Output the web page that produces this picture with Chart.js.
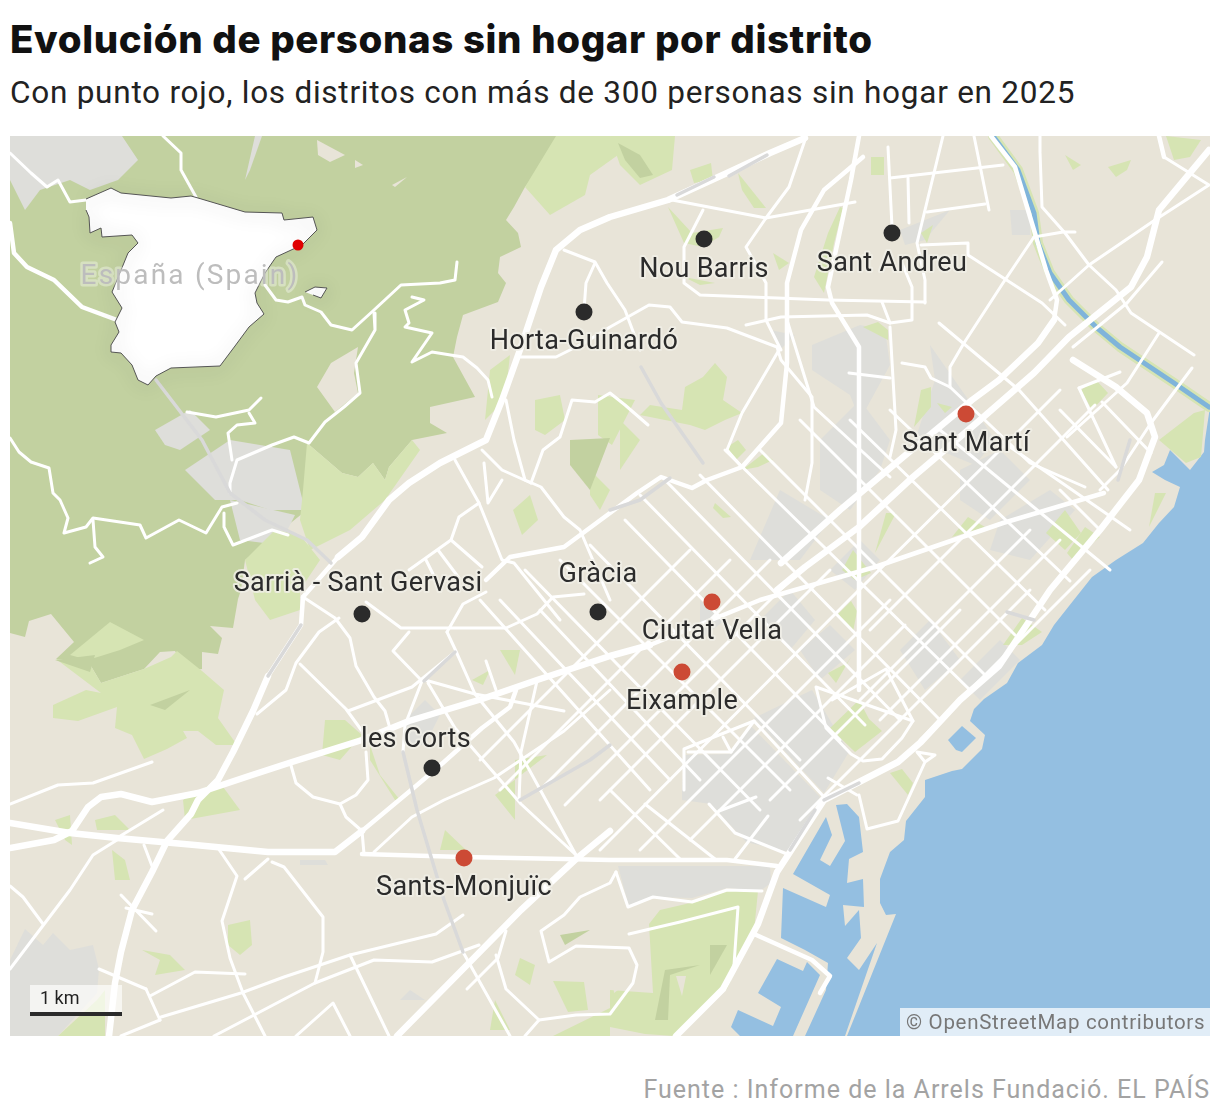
<!DOCTYPE html>
<html lang="es">
<head>
<meta charset="utf-8">
<title>Evolución de personas sin hogar por distrito</title>
<script src="https://cdn.jsdelivr.net/npm/chart.js@4"></script>
<style>
  html,body{margin:0;padding:0;background:#fff;font-family:Roboto,sans-serif}
  body{width:1220px;height:1120px;position:relative;overflow:hidden}
  h1{position:absolute;left:10px;top:16px;margin:0;font:800 38.5px/46px Inter,Roboto,sans-serif;letter-spacing:.6px;color:#111;white-space:nowrap}
  h2{position:absolute;left:10px;top:74px;margin:0;font:400 31.5px/38px Roboto,sans-serif;letter-spacing:.75px;color:#222;white-space:nowrap}
  #wrap{position:absolute;left:10px;top:136px;width:1200px;height:900px;background:#e8e4d8}
  .scale{position:absolute;left:20px;top:849px;width:92px;height:27px;background:rgba(255,255,255,.65);font-size:18px;line-height:26px;color:#222;text-indent:10px}
  .bar{position:absolute;left:20px;top:876px;width:92px;height:4px;background:#2b2b2b}
  .osm{position:absolute;right:0;bottom:0;width:310px;height:28px;background:rgba(255,255,255,.72);font-size:20.5px;line-height:29px;letter-spacing:.7px;color:#777;text-indent:6px;white-space:nowrap}
  .src{position:absolute;right:10px;top:1074px;font-size:25px;line-height:32px;letter-spacing:1px;color:#a3a3a3;white-space:nowrap}
</style>
</head>
<body>
<h1>Evolución de personas sin hogar por distrito</h1>
<h2>Con punto rojo, los distritos con más de 300 personas sin hogar en 2025</h2>
<div id="wrap">
  <canvas id="map" width="1200" height="900"></canvas>
  <div class="scale">1 km</div><div class="bar"></div>
  <div class="osm">© OpenStreetMap contributors</div>
</div>
<div class="src">Fuente : Informe de la Arrels Fundació. EL PAÍS</div>
<script>
// districts
const districts = ['Nou Barris','Sant Andreu','Horta-Guinardó','Sant Martí','Gràcia','Ciutat Vella','Eixample','Sarrià - Sant Gervasi','les Corts','Sants-Monjuïc'];
const districtX = [704,892,584,966,598,712,682,362,432,464];
const districtY = [239,233,312,414,612,602,672,614,768,858];
const over300 = [false,false,false,true,false,true,true,false,false,true];

// land use
const sea = [[1210,407],[1205,440],[1204,452],[1190,470],[1170,450],[1164,465],[1152,472],[1165,480],[1180,487],[1174,507],[1159,523],[1143,543],[1116,560],[1092,577],[1069,606],[1054,625],[1042,645],[1018,663],[1007,683],[984,699],[974,709],[970,721],[985,735],[982,749],[962,769],[952,771],[925,780],[925,797],[906,821],[904,840],[890,852],[880,879],[880,903],[886,915],[896,914],[847,1036],[1210,1036]];
const harbour = [[826,817],[832,835],[820,860],[830,866],[845,841],[836,805],[847,804],[859,817],[863,852],[849,859],[847,883],[863,879],[864,907],[843,905],[845,926],[859,910],[861,938],[847,958],[859,970],[877,943],[845,1036],[805,1036],[826,990],[828,963],[805,950],[781,938],[783,888],[826,907],[830,895],[793,874]];
const portBasin = [[777,959],[803,971],[807,962],[820,975],[793,1036],[740,1036],[731,1027],[738,1010],[773,1026],[781,1007],[758,993]];
const marina = [[948,740],[962,726],[976,738],[962,752],[956,750]];
const forest = [[10,136],[556,136],[556,150],[525,187],[514,207],[506,220],[518,233],[521,247],[500,257],[498,273],[506,283],[498,302],[463,315],[457,337],[453,357],[475,397],[430,407],[430,423],[447,433],[412,440],[389,467],[385,480],[373,463],[358,477],[342,473],[307,443],[307,467],[303,513],[245,560],[241,590],[238,599],[233,628],[210,626],[222,638],[218,654],[202,652],[202,669],[187,671],[175,651],[160,652],[144,669],[101,683],[88,661],[56,659],[74,642],[51,614],[29,621],[25,637],[10,633]];
const lightParks = [
  [[56,659],[88,661],[101,683],[144,669],[171,657],[177,651],[202,671],[224,690],[218,718],[237,745],[216,745],[198,731],[183,731],[187,738],[167,749],[144,759],[132,735],[115,728],[117,707],[78,721],[53,718],[53,705],[86,690],[101,693]],
  [[307,443],[342,473],[358,477],[373,463],[385,480],[389,467],[412,440],[420,450],[385,500],[350,530],[310,550],[300,520],[303,490]],
  [[245,560],[275,530],[300,535],[320,560],[300,590],[300,610],[270,620],[255,600]],
  [[70,655],[110,622],[144,640],[120,650],[88,660]],
  [[556,136],[610,136],[625,150],[590,175],[585,195],[550,215],[525,187]],
  [[610,136],[675,136],[672,170],[640,185],[620,165]],
  [[490,370],[510,355],[505,400],[485,420]],
  [[535,400],[560,395],[565,420],[545,435],[535,430]],
  [[513,510],[530,495],[538,520],[522,535]],
  [[598,395],[635,400],[612,445],[598,435]],
  [[685,387],[703,377],[715,363],[727,377],[723,400],[742,413],[725,420],[705,430],[690,425],[665,420],[640,415],[650,405],[682,410]],
  [[590,470],[610,490],[600,510],[590,495]],
  [[620,420],[640,440],[620,470],[620,440]],
  [[727,447],[738,440],[746,450],[736,460]],
  [[742,470],[764,453],[773,460],[758,467]],
  [[715,503],[731,517],[723,518],[713,508]],
  [[690,170],[711,163],[713,180],[694,183]],
  [[738,173],[766,208],[754,208],[742,190]],
  [[668,207],[692,233],[723,228],[719,237],[703,247],[684,243]],
  [[828,233],[840,207],[843,208],[834,243],[824,293],[814,277]],
  [[773,253],[789,263],[779,270]],
  [[684,277],[715,283],[700,285]],
  [[863,327],[878,322],[888,330],[888,340]],
  [[921,233],[933,225],[927,243]],
  [[871,157],[884,157],[884,175],[871,175]],
  [[921,390],[931,387],[931,407],[914,427]],
  [[937,403],[952,407],[945,413]],
  [[830,728],[859,700],[869,719],[882,731],[855,752]],
  [[838,614],[851,601],[857,611],[853,632]],
  [[828,673],[847,663],[851,657],[836,683]],
  [[890,773],[902,769],[913,783],[908,795]],
  [[1003,645],[1022,618],[1042,632],[1022,645]],
  [[968,517],[985,527],[952,537]],
  [[886,513],[896,513],[875,553]],
  [[853,550],[871,573],[855,580],[842,570]],
  [[1065,510],[1081,533],[1065,550],[1046,533]],
  [[1085,527],[1100,537],[1073,560],[1067,553]],
  [[1155,493],[1166,493],[1149,527]],
  [[1194,413],[1205,410],[1201,457],[1186,463],[1159,440]],
  [[1081,390],[1096,380],[1108,393],[1092,410]],
  [[1065,155],[1081,165],[1073,170]],
  [[1108,167],[1131,160],[1127,170],[1116,177]],
  [[1166,136],[1201,140],[1190,157],[1174,160]],
  [[610,1027],[645,1034],[674,1036],[727,989],[754,931],[758,891],[727,890],[703,900],[660,910],[649,924],[653,993],[610,990]],
  [[553,1036],[610,1008],[610,1036]],
  [[553,981],[584,982],[588,1010],[568,1012]],
  [[325,720],[345,720],[362,735],[340,760],[322,755]],
  [[370,760],[395,800],[400,800],[380,775],[370,745]],
  [[183,800],[218,780],[240,810],[185,820]],
  [[55,820],[70,815],[72,845],[65,840]],
  [[95,820],[115,815],[130,830],[97,830]],
  [[112,850],[125,860],[130,880],[115,880]],
  [[142,950],[170,955],[185,970],[155,975],[160,960]],
  [[228,925],[250,920],[252,945],[240,955],[228,945]],
  [[500,650],[520,650],[515,675]],
  [[472,680],[490,670],[483,685]],
  [[547,755],[515,760],[515,820],[495,795]],
  [[445,830],[466,850],[440,850]],
  [[495,1000],[510,1030],[490,1030]],
  [[520,958],[535,965],[530,985],[515,975]],
  [[58,1036],[97,1000],[105,990],[105,1036]],
];
const darkPatches = [[[618,143],[640,155],[653,175],[640,178],[625,160]],[[570,440],[610,438],[590,490],[570,465]],[[55,660],[95,655],[90,672]],[[150,705],[190,690],[165,710]],[[665,970],[700,965],[670,975],[668,1020],[655,1020]],[[710,945],[727,945],[710,975]],[[560,935],[590,930],[565,945]]];
const urban = [
  [[10,136],[122,136],[138,160],[118,180],[90,190],[70,180],[40,190],[25,210],[10,180]],
  [[155,430],[190,410],[210,430],[180,450],[165,445]],
  [[185,470],[230,440],[290,450],[305,510],[270,510],[240,500],[215,500]],
  [[230,500],[295,515],[280,545],[240,540]],
  [[255,136],[262,136],[250,170],[245,180]],
  [[10,960],[25,929],[43,945],[53,933],[70,950],[93,945],[99,969],[97,993],[58,1036],[10,1036]],
  [[684,755],[731,754],[750,725],[820,797],[789,852],[746,842],[711,804],[682,800],[682,790]],
  [[754,718],[812,690],[849,752],[824,793]],
  [[618,866],[770,866],[771,883],[760,891],[727,888],[692,898],[655,897],[629,907]],
  [[812,345],[860,325],[885,330],[890,365],[860,420],[850,395],[812,370]],
  [[820,440],[860,400],[890,440],[880,470],[850,510],[820,490]],
  [[780,490],[830,520],[800,560],[750,560]],
  [[930,345],[965,395],[995,440],[975,465],[915,440],[935,380]],
  [[960,470],[1000,450],[1030,480],[990,520],[960,500]],
  [[1000,520],[1050,490],[1075,510],[1030,560],[990,550]],
  [[760,620],[790,590],[815,620],[790,650]],
  [[700,600],[725,620],[700,640]],
  [[800,650],[830,625],[855,650],[820,680]],
  [[900,650],[930,620],[960,660],[925,690]],
  [[960,680],[1000,640],[1020,660],[980,700]],
  [[830,570],[860,540],[880,560],[855,590]],
  [[900,230],[950,210],[925,240],[905,245]],
  [[1010,210],[1030,210],[1030,235],[1012,235]],
  [[770,330],[795,335],[780,350]],
  [[300,860],[325,860],[328,865],[300,865]],
  [[400,1000],[410,990],[425,1000]],
  [[405,720],[425,700],[440,715],[425,745],[405,745]],
];
const bareLand = [
  [[317,140],[345,155],[330,162],[318,155]],
  [[355,160],[363,165],[355,168]],
  [[392,185],[407,177],[395,187]],
  [[317,387],[331,363],[358,347],[354,373],[358,393],[335,412]],
  [[610,948],[629,948],[637,976],[614,993]],
  [[676,976],[686,976],[682,996]],
];

// river
const river = [[993,136],[1018,170],[1034,213],[1038,243],[1050,273],[1069,300],[1096,327],[1120,347],[1174,383],[1209,407]];

// roads
const motorways = [
  [[10,848],[54,840],[72,831],[88,807],[101,797],[121,794],[152,802],[198,793],[249,776],[292,762],[362,740],[409,721],[482,699],[537,680],[610,656],[650,645]],
  [[805,138],[770,153],[727,173],[668,200],[610,217],[580,230],[556,250],[541,287],[521,347],[502,400],[486,440],[440,463],[409,483],[389,500],[362,537],[338,557]],
  [[268,676],[253,711],[233,752],[218,780],[198,800],[191,814],[167,841],[152,872],[132,910],[121,952],[115,983],[109,1036]],
  [[397,1036],[467,965],[521,910],[576,859],[610,831]],
  [[676,1036],[723,989],[758,924],[777,872],[824,800],[898,762],[921,742],[960,700],[999,666],[1034,614],[1050,590],[1100,530],[1139,480],[1155,437],[1147,413],[1116,387],[1073,360]],
  [[10,823],[70,833],[117,838],[195,845],[268,852],[335,852],[362,831]],
  [[1209,150],[1159,210],[1147,257],[1131,287],[1069,337],[1034,373],[980,420],[913,477],[859,527],[805,567],[777,590]],
  [[1054,320],[1038,343],[999,380],[972,400],[902,458],[840,510],[781,563]],
];
const mainRoads = [
  [[303,597],[301,625],[268,676]],
  [[338,557],[303,597]],
  [[10,223],[14,253],[27,267],[54,280],[82,307],[117,320]],
  [[362,854],[463,857],[564,859],[610,860],[727,860],[777,866]],
  [[362,831],[416,786],[444,762],[482,728],[510,707],[516,690]],
  [[859,136],[851,180],[828,287],[832,303],[859,347],[859,590],[859,690]],
  [[863,157],[824,190],[801,230],[787,283],[787,363],[781,423],[742,467],[707,480],[692,488],[661,477],[637,493],[610,513],[564,547],[510,557],[486,580]],
  [[875,567],[1003,523],[1104,493]],
  [[650,645],[760,600],[875,567]],
  [[991,136],[1015,167],[1034,230],[1046,270],[1057,300],[1054,320]],
  [[754,934],[812,960],[830,976],[820,993]],
  [[1164,157],[1159,136]],
];
const streets = [
  [[457,262],[455,280],[440,283],[401,285],[374,310],[352,330],[331,325],[321,312],[305,305],[302,297],[288,302],[276,300],[265,285]],
  [[374,313],[375,330],[356,363],[360,393],[344,407],[325,422],[309,443],[294,437],[272,445],[237,460],[230,483],[230,493]],
  [[261,398],[249,410],[216,417],[187,412]],
  [[249,413],[255,423],[237,425],[228,433],[232,460]],
  [[10,438],[19,452],[31,462],[49,468],[53,493],[60,500],[68,518],[64,533],[86,527],[93,518],[140,525],[146,538],[179,520],[206,533],[222,507],[237,503]],
  [[93,520],[95,547],[103,557],[90,563]],
  [[224,513],[224,527],[233,545],[272,530],[288,535]],
  [[10,153],[31,173],[47,187],[58,180],[70,202],[86,200]],
  [[163,136],[181,153],[181,170],[196,197]],
  [[412,297],[424,300],[405,310],[409,323],[405,327],[432,333],[412,362],[432,352],[463,357],[477,368],[488,380],[492,397]],
  [[564,250],[595,262],[607,283],[625,310],[640,350]],
  [[595,263],[586,283],[584,310]],
  [[521,357],[556,357],[584,343],[610,327],[649,305],[670,307],[682,322],[727,328],[777,347],[781,360],[812,397],[812,463],[805,500]],
  [[506,400],[514,440],[525,480],[541,487],[564,517],[580,530],[610,600]],
  [[482,450],[502,470],[531,483]],
  [[455,460],[479,503],[502,560],[514,563],[560,620]],
  [[484,463],[488,503],[502,480]],
  [[531,483],[543,450],[560,437],[572,400],[595,402],[610,393],[625,405],[648,425]],
  [[409,570],[451,540],[459,517],[479,503]],
  [[451,540],[482,567]],[[438,550],[459,578]],[[426,560],[436,580]],
  [[672,200],[766,218],[855,202]],
  [[703,210],[684,247],[684,283],[700,295],[828,300],[925,302]],
  [[766,218],[746,247],[766,283],[766,320],[781,350]],
  [[805,140],[789,187],[766,218]],
  [[888,147],[892,227]],[[890,178],[1003,165]],[[908,178],[909,223]],
  [[943,136],[917,243],[925,280],[925,303]],
  [[927,212],[985,204]],[[974,136],[989,210]],
  [[921,245],[968,243],[968,255],[1042,303],[1065,325]],
  [[1034,237],[1003,283],[964,343],[950,367],[950,387]],
  [[1034,237],[1063,232],[1075,232]],
  [[1040,136],[1040,152],[1042,207],[1065,233],[1089,265],[1116,290],[1131,313],[1194,355]],
  [[1155,220],[1089,265],[1050,300]],
  [[1162,262],[1127,303],[1073,347]],
  [[1164,157],[1209,185],[1155,220]],
  [[1159,333],[1127,383],[1067,437]],
  [[1192,368],[1151,423],[1120,470],[1100,490]],
  [[1079,388],[1116,467]],[[1079,388],[1120,372]],
  [[1102,402],[1151,453]],
  [[939,323],[1019,390],[1108,490]],
  [[902,363],[925,367],[931,378],[950,387],[1030,463],[1085,487]],
  [[849,373],[890,378]],
  [[890,327],[896,430],[890,457]],
  [[746,325],[781,317],[867,315],[890,323],[912,320],[912,287],[902,263]],
  [[882,302],[890,323]],
  [[787,320],[814,407],[890,477]],
  [[779,350],[742,413],[727,450],[740,465]],
  [[303,597],[335,618],[350,638],[356,666],[374,697],[385,711],[389,725]],
  [[339,618],[319,632],[296,663],[286,690],[257,714]],
  [[300,664],[346,709],[362,731]],
  [[348,711],[412,687],[455,652]],
  [[366,602],[401,628],[506,628],[537,614],[553,597],[584,594]],
  [[409,632],[393,651],[422,681],[405,725],[403,752]],
  [[447,632],[463,604],[486,592]],
  [[447,632],[455,649],[475,694],[514,742],[576,855]],
  [[428,683],[455,728],[521,804],[576,855]],
  [[425,680],[475,694],[564,711]],
  [[537,681],[521,752],[519,800]],
  [[486,661],[496,690]],
  [[366,752],[368,780],[356,795],[340,804],[313,797],[296,783],[290,762]],
  [[340,804],[346,817],[362,831],[364,854]],
  [[374,852],[412,817],[444,800],[494,778],[564,731],[610,690]],
  [[10,804],[58,785],[93,783],[152,762]],
  [[117,840],[93,855],[70,890],[10,969]],
  [[163,810],[117,838]],[[144,845],[152,866]],
  [[218,848],[237,876],[222,921],[230,958],[243,993],[265,1036]],
  [[268,859],[245,879]],
  [[272,862],[284,867],[323,917],[323,952],[315,983]],
  [[150,996],[195,972],[245,974]],
  [[146,989],[160,1020]],[[99,969],[146,989]],
  [[161,1017],[241,993],[284,977],[350,955],[436,934],[463,915]],
  [[121,1036],[160,1020]],
  [[214,1036],[315,983],[374,960],[432,962],[479,945]],
  [[350,955],[389,1036]],
  [[296,1036],[333,1003],[350,1036]],
  [[463,952],[510,1036]],
  [[10,886],[23,897],[43,924]],
  [[467,989],[498,958],[506,931]],
  [[496,955],[506,989],[539,1020],[576,1015],[610,1014],[633,983],[637,965],[629,948],[576,946],[549,962],[541,931],[564,915],[580,897],[610,883],[616,872]],
  [[539,1020],[525,1036]],
  [[121,895],[156,931]],[[126,908],[152,914]],
  [[616,872],[628,907],[653,897],[692,902],[727,890],[762,891]],
  [[629,934],[680,922],[738,907],[734,965]],
  [[824,797],[754,721],[684,749],[684,790]],
  [[826,728],[851,754],[863,761],[882,759],[902,738],[913,721],[816,687],[826,728]],
  [[832,700],[886,669],[913,721]],
  [[859,795],[867,829],[898,821],[925,762],[917,752],[935,755],[925,762]],
  [[828,778],[857,795]],
  [[709,804],[735,833],[787,854]],[[719,811],[756,797]],[[735,859],[768,816]],[[715,859],[645,804]],[[680,859],[610,790]],
  [[688,752],[731,752],[754,721]],[[731,752],[723,737]],
];
const gridStreets = [
  [[480,760],[690,550]],[[500,790],[730,560]],[[540,790],[770,560]],[[565,805],[790,580]],[[600,800],[830,570]],[[600,850],[859,590]],[[640,850],[890,600]],[[690,840],[905,625]],[[770,800],[960,610]],[[800,820],[1030,590]],
  [[860,700],[1030,530]],[[880,720],[1060,540]],[[920,740],[1090,570]],[[870,630],[1000,500],[1095,405]],[[859,590],[1000,450],[1060,390]],
  [[525,570],[760,810]],[[560,560],[790,790]],[[590,545],[800,760]],[[625,520],[840,740]],[[640,495],[865,725]],[[665,480],[900,720]],[[700,475],[940,720]],[[725,450],[970,690]],[[760,450],[985,675]],
  [[480,600],[650,790]],[[500,600],[670,780]],[[540,610],[700,780]],
  [[800,420],[1015,635]],[[850,420],[1045,610]],[[890,410],[1070,581]],[[940,430],[1110,570]],[[1000,440],[1130,530]],
  [[1100,530],[1060,490]],[[1116,467],[1060,410]],
];
const tunnels = [
  [[156,380],[202,440],[230,493],[265,520],[307,540],[331,563]],
  [[641,367],[661,403],[703,463]],
  [[610,510],[640,500],[670,478]],
  [[729,176],[767,155]],[[677,195],[714,177]],
  [[301,625],[268,676]],
  [[403,752],[417,810],[444,900],[463,952]],
  [[424,681],[455,652]],
  [[520,800],[590,760],[610,745]],
  [[824,800],[859,783]],
  [[790,850],[815,810]],
  [[1007,612],[1034,620]],
  [[1118,480],[1130,440]],
];

// spain inset
const spainMainland = [[86,199],[111,188],[121,193],[171,198],[191,196],[198,198],[245,212],[282,213],[284,220],[313,217],[317,230],[302,245],[276,257],[265,273],[255,293],[257,303],[264,314],[249,327],[235,346],[220,366],[171,368],[156,376],[148,385],[138,380],[132,365],[121,353],[111,352],[111,345],[119,332],[115,322],[122,308],[112,292],[117,280],[128,253],[138,243],[132,235],[102,237],[101,228],[90,233],[89,217],[86,210]];
const spainIsland = [[305,292],[315,287],[327,288],[321,298],[313,295]];
const barcelonaX = [298];
const barcelonaY = [245];

function xy(pts){ return pts.map(p => ({x:p[0], y:p[1]})); }

const layers = [];
function addArea(pts, color, extra){
  layers.push(Object.assign({data:xy(pts), showLine:true, fill:'shape', backgroundColor:color, borderWidth:0, pointRadius:0, tension:0}, extra||{}));
}
function addLine(pts, color, width){
  layers.push({data:xy(pts), showLine:true, fill:false, borderColor:color, borderWidth:width, pointRadius:0, tension:0, borderCapStyle:'round', borderJoinStyle:'round'});
}

addArea(sea,'#94bfe1');
addArea(harbour,'#94bfe1');
addArea(portBasin,'#94bfe1');
addArea(marina,'#94bfe1');
addArea(forest,'#c2d1a0');
urban.forEach(p => addArea(p,'#dededa'));
lightParks.forEach(p => addArea(p,'#d6e4b3'));
darkPatches.forEach(p => addArea(p,'#c2d1a0'));
bareLand.forEach(p => addArea(p,'#e8e4d8'));
addLine(river,'#d6e4b3',10);
addLine(river,'#7fb4da',5);
gridStreets.forEach(p => addLine(p,'#ffffff',3));
streets.forEach(p => addLine(p,'#ffffff',3));
mainRoads.forEach(p => addLine(p,'#ffffff',4.5));
motorways.forEach(p => addLine(p,'#ffffff',6.5));
tunnels.forEach(p => addLine(p,'#d9d9d9',3.5));
addArea(spainMainland,'#ffffff',{borderWidth:1,borderColor:'#555',shadow:true});
addArea(spainIsland,'#ffffff',{borderWidth:1,borderColor:'#555',shadow:true});
layers.push({data:barcelonaX.map((x,i)=>({x, y:barcelonaY[i]})), pointRadius:5.5, pointBackgroundColor:'#e00000', pointBorderWidth:0, showLine:false});
layers.push({data:districtX.map((x,i)=>({x, y:districtY[i]})), pointRadius:8.5, pointBorderWidth:0, showLine:false,
  pointBackgroundColor: over300.map(r => r ? '#cc4a35' : '#2b2b2b')});

layers.forEach((d,i) => { d.order = layers.length - i; });

// label offsets from the dot
const labelDx = [0,0,0,0,0,0,0,-4,-16,0];
const labelDy = [31,31,30,30,-37,30,30,-30,-28,30];

const shadowPlugin = {
  id:'shadow',
  beforeDatasetDraw(chart, args){
    if(chart.data.datasets[args.index].shadow){
      const c = chart.ctx; c.save();
      c.shadowColor = 'rgba(0,0,0,.45)'; c.shadowBlur = 18; c.shadowOffsetY = 2;
    }
  },
  afterDatasetDraw(chart, args){
    if(chart.data.datasets[args.index].shadow) chart.ctx.restore();
  }
};

const labelPlugin = {
  id:'labels',
  afterDatasetsDraw(chart){
    const c = chart.ctx, sx = chart.scales.x, sy = chart.scales.y;
    c.save();
    c.textAlign = 'center'; c.textBaseline = 'middle'; c.lineJoin = 'round';
    c.font = '400 28px Roboto'; c.letterSpacing = '2.2px';
    c.lineWidth = 5; c.strokeStyle = 'rgba(255,255,255,.35)'; c.fillStyle = '#bdbdbd';
    c.strokeText('España (Spain)', sx.getPixelForValue(190), sy.getPixelForValue(277));
    c.fillText('España (Spain)', sx.getPixelForValue(190), sy.getPixelForValue(277));
    c.letterSpacing = '0.3px';
    c.font = '400 27px Roboto';
    c.lineWidth = 4; c.strokeStyle = 'rgba(240,238,230,.85)'; c.fillStyle = '#2b2b2b';
    districts.forEach((name,i) => {
      const px = sx.getPixelForValue(districtX[i]) + labelDx[i];
      const py = sy.getPixelForValue(districtY[i]) + labelDy[i];
      c.strokeText(name, px, py);
      c.fillText(name, px, py);
    });
    c.restore();
  }
};

new Chart(document.getElementById('map'), {
  type:'scatter',
  data:{datasets:layers},
  options:{
    responsive:false,
    animation:false,
    events:[],
    layout:{padding:0,autoPadding:false},
    plugins:{legend:{display:false},tooltip:{enabled:false}},
    scales:{
      x:{type:'linear',display:false,min:10,max:1210},
      y:{type:'linear',display:false,min:136,max:1036,reverse:true}
    }
  },
  plugins:[shadowPlugin,labelPlugin]
});
</script>
</body>
</html>
